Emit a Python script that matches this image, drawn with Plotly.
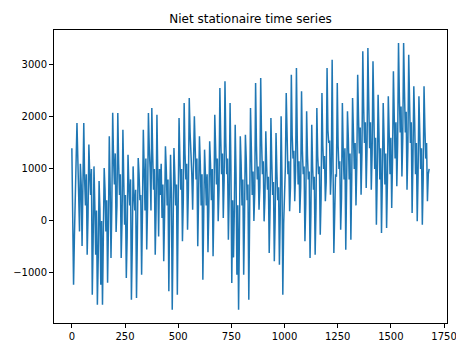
import plotly.graph_objects as go

# time index (every 4th sample)
time_index = list(range(0, 1681, 4))

# values read at every 8th sample (0, 8, 16, ...)
even_values = [
    # 0 - 192
    1400, -1225, 600, 1885, 300, 1100, -480, 1885, 300, -650, 1470, 500, -1420,
    1050, -650, -1610, 770, -1225, -1610, 1020, -200, -1190, 1630, -710, 2080,
    # 200 - 408
    700, -210, 2077, 500, -712, 1756, -70, -1097, 1275, 300, -1513, 1050, 200,
    -1480, 1211, 400, -1032, 1756, 200, -550, 2077, 1000, 2172, 600, -650, 2044,
    -300,
    # 416 - 624
    500, 57, -776, 1436, 300, -1353, 1275, -1705, 1404, 300, -1417, 1980, 600,
    -391, 2268, 800, -167, 2365, 1400, 217, 2012, 800, -487, 1628, 300, -1128, 1372,
    # 632 - 840
    300, -600, 1532, 400, -680, 2044, 700, -7, 2557, 900, 57, 2685, 900, -359,
    2268, -1193, -700, 1852, -1032, -1705, 1628, 300, -1032, 1660, 400, -1513, 2172,
    # 848 - 1056
    500, 0, 2653, 800, 217, 2749, 900, -7, 1724, 600, -616, 1980, 500, -776,
    1692, 400, -840, 2012, -1417, 500, 2461, 900, 186, 2813, 1200, 378, 2942,
    # 1064 - 1272
    700, 153, 2493, 900, -391, 2108, 800, -712, 1852, 600, -648, 2172, 900, -263,
    2461, 1000, 378, 2942, 1500, 506, 3102, -616, 900, 2653, 1000, -167, 2268,
    # 1280 - 1488
    800, -552, 2108, 800, -359, 2365, 1000, 300, 2813, 1300, 506, 3262, 1500, 634,
    3326, 1400, 600, 3070, 1000, -71, 2429, 800, -231, 2268, 700, -135, 2397,
    # 1496 - 1680
    900, 250, 2878, 1200, 666, 3423, 1700, 858, 3423, 1700, 602, 3198, 1500, 153,
    2589, 900, -7, 2397, 1000, -71, 2589, 1200, 378, 1000,
]

# values read between them (4, 12, 20, ...)
odd_values = [
    # 4 - 196
    200, -300, 900, 1200, -200, 700, 400, 800, 900, 100, 900, 1000, -400,
    300, 200, -700, 200, 0, -300, 600, 400, -100, 700, 300, 1200,
    # 204 - 412
    1300, 300, 1100, 900, 0, 800, 500, -300, 700, 800, -500, 500, 600,
    -300, 900, 500, 200, 1000, 1200, 300, 1400, 200, 1300, 1000, 200, 900, 1000,
    # 420 - 628
    1100, 700, 100, 1000, 800, 200, 500, -200, 900, 700, 300, 1200, 1000,
    400, 1300, 1100, 600, 1700, 900, 1000, 1400, 1200, 500, 1100, 900, 100, 900,
    # 636 - 844
    900, 200, 1100, 1000, 300, 1400, 1200, 600, 1600, 1300, 800, 1500, 1200,
    500, 1000, 400, 200, 900, 300, -200, 1100, 800, 100, 1200, 700, 100, 1400,
    # 852 - 1060
    950, 550, 1450, 1050, 650, 1550, 1150, 450, 1050, 850, 250, 1150, 750,
    50, 950, 650, 150, 850, -50, 1050, 1350, 1150, 650, 1650, 1350, 950, 1550,
    # 1068 - 1276
    1150, 650, 1350, 1050, 350, 1250, 950, 150, 1050, 850, 250, 1250, 1050,
    450, 1450, 1250, 750, 1750, 1550, 950, 1150, 150, 850, 1450, 1150, 450, 1350,
    # 1284 - 1492
    1400, 700, 1600, 1300, 800, 1700, 1500, 1100, 2000, 1800, 1300, 2200, 1900,
    1400, 2300, 1900, 1300, 2100, 1600, 900, 1700, 1400, 800, 1600, 1300, 800, 1700,
    # 1500 - 1676
    1600, 1200, 2000, 1900, 1500, 2400, 2200, 1600, 2500, 2100, 1400, 2300, 1900,
    1200, 1900, 1500, 900, 1700, 1400, 800, 1800, 1500, 900,
]

x_ticks = [0, 250, 500, 750, 1000, 1250, 1500, 1750]
y_ticks = [-1000, 0, 1000, 2000, 3000]
title_text = "Niet stationaire time series"

series = []
for i, v in enumerate(even_values):
    series.append(v)
    if i < len(odd_values):
        series.append(odd_values[i])

fig = go.Figure(
    go.Scatter(
        x=time_index[:len(series)],
        y=series,
        mode="lines",
        line=dict(color="#1f77b4", width=1.5),
    )
)

axis_common = dict(
    showgrid=False,
    zeroline=False,
    showline=True,
    linecolor="black",
    linewidth=1,
    mirror=True,
    ticks="outside",
    ticklen=4,
    tickwidth=1,
    tickcolor="black",
    automargin=False,
    ticklabeloverflow="allow",
    tickfont=dict(family="DejaVu Sans", size=10, color="black"),
)

fig.update_layout(
    width=456,
    height=342,
    margin=dict(l=54, r=9, t=30, b=19, autoexpand=False),
    paper_bgcolor="white",
    plot_bgcolor="white",
    showlegend=False,
    title=dict(
        text=title_text,
        x=(54 + 447) / 2 / 456,
        xanchor="center",
        y=1 - 19 / 342,
        yanchor="middle",
        font=dict(family="DejaVu Sans", size=12, color="black"),
    ),
    xaxis=dict(range=[-84, 1764], tickvals=x_ticks, **axis_common),
    yaxis=dict(range=[-1962, 3673], tickvals=y_ticks, **axis_common),
)

fig.write_html("out.html")
